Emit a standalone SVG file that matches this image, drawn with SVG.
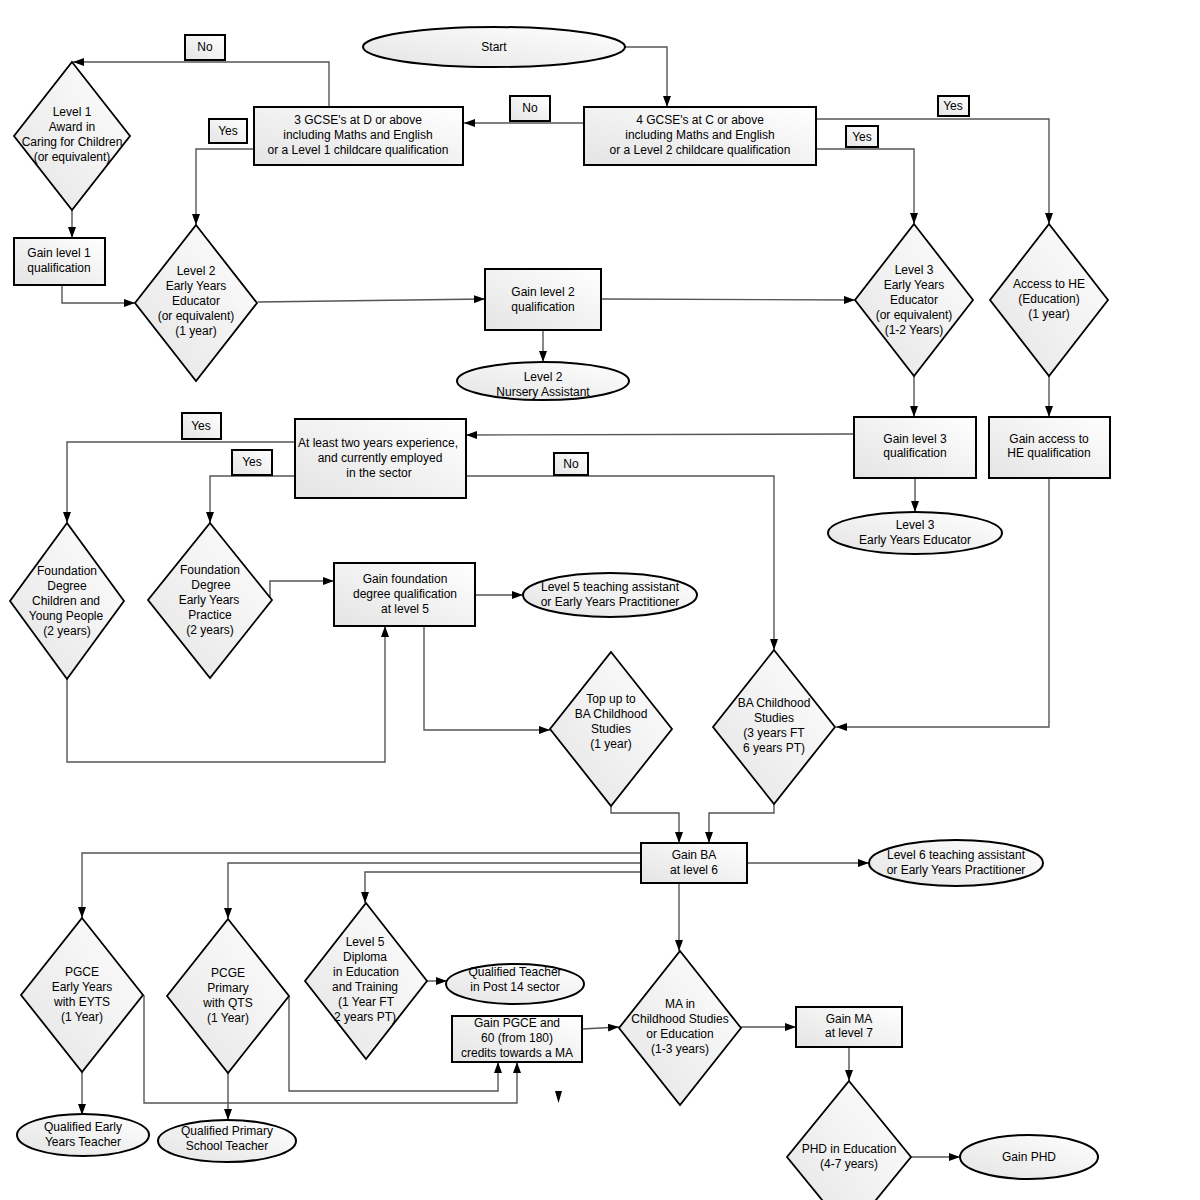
<svg xmlns="http://www.w3.org/2000/svg" width="1200" height="1200" viewBox="0 0 1200 1200">
<defs>
<linearGradient id="g" x1="1" y1="0" x2="0" y2="1">
<stop offset="0" stop-color="#ffffff"/>
<stop offset="1" stop-color="#e4e4e4"/>
</linearGradient>
<marker id="a" markerUnits="userSpaceOnUse" markerWidth="11" markerHeight="8" refX="11" refY="4" orient="auto">
<path d="M0,0 L11,4 L0,8 z" fill="#000"/>
</marker>
</defs>
<style>
.n{fill:url(#g);stroke:#000;stroke-width:2}
.d{fill:url(#g);stroke:#000;stroke-width:1.8}
.lb{fill:url(#g);stroke:#000;stroke-width:2}
.c path{fill:none;stroke:#555;stroke-width:1.4;marker-end:url(#a)}
.c path.x{marker-end:none}
text{font-family:"Liberation Sans",Arial,sans-serif;font-size:12px;fill:#000;text-anchor:middle}
</style>
<rect width="1200" height="1200" fill="#fff"/>

<g class="c" id="connectors">
<path d="M624,47 H667 V107"/>
<path d="M584,123 H464"/>
<path d="M329,107 V62 H73"/>
<path d="M254,149 H196 V225"/>
<path d="M72,210 V238"/>
<path d="M62,285 V303 H135"/>
<path d="M258,302 L485,299"/>
<path d="M601,299 L855,300"/>
<path d="M543,330 V362"/>
<path d="M816,119 H1049 V224"/>
<path d="M816,149 H914 V224"/>
<path d="M914,376 V417"/>
<path d="M1049,376 V417"/>
<path d="M915,478 V512"/>
<path d="M854,434 L466,435"/>
<path d="M1049,478 V727 H836"/>
<path d="M295,442 H67 V523"/>
<path d="M295,476 H210 V523"/>
<path d="M466,476 H774 V650"/>
<path d="M270,600 V581 H334"/>
<path d="M476,595 H523"/>
<path d="M67,679 V762 H385 V626"/>
<path d="M424,626 V730 H550"/>
<path d="M611,806 V813 H679 V843"/>
<path d="M774,804 V813 H709 V843"/>
<path d="M747,863 L869,863"/>
<path d="M641,853 H82 V918"/>
<path d="M641,863 H228 V919"/>
<path d="M641,872 H365 V903"/>
<path d="M679,883 V951"/>
<path d="M741,1027 H796"/>
<path d="M849,1047 V1081"/>
<path d="M911,1157 H960"/>
<path d="M427,981 H447"/>
<path d="M582,1029 L619,1027"/>
<path d="M144,995 V1103 H517 V1062"/>
<path d="M289,996 V1091 H498 V1062"/>
<path d="M82,1072 V1115"/>
<path d="M228,1073 V1120"/>
</g>
<polygon points="555,1091 562,1091 558.5,1103" fill="#000"/>

<g id="start"><ellipse class="n" cx="494" cy="47" rx="131" ry="20"/><text x="494" y="51">Start</text></g>

<g id="gcse4"><rect class="n" x="584" y="107" width="232" height="58"/>
<text x="700" y="124">4 GCSE's at C or above</text><text x="700" y="139">including Maths and English</text><text x="700" y="154">or a Level 2 childcare qualification</text></g>

<g id="gcse3"><rect class="n" x="254" y="107" width="209" height="58"/>
<text x="358" y="124">3 GCSE's at D or above</text><text x="358" y="139">including Maths and English</text><text x="358" y="154">or a Level 1 childcare qualification</text></g>

<g id="lbl-no1"><rect class="lb" x="510" y="96" width="40" height="25"/><text x="530" y="112">No</text></g>
<g id="lbl-no2"><rect class="lb" x="185" y="35" width="40" height="25"/><text x="205" y="51">No</text></g>
<g id="lbl-yes1"><rect class="lb" x="209" y="119" width="38" height="24"/><text x="228" y="135">Yes</text></g>
<g id="lbl-yes2"><rect class="lb" x="938" y="96" width="31" height="20"/><text x="953" y="110">Yes</text></g>
<g id="lbl-yes3"><rect class="lb" x="846" y="126" width="32" height="21"/><text x="862" y="141">Yes</text></g>
<g id="lbl-yes4"><rect class="lb" x="182" y="413" width="39" height="26"/><text x="201" y="430">Yes</text></g>
<g id="lbl-yes5"><rect class="lb" x="232" y="450" width="40" height="25"/><text x="252" y="466">Yes</text></g>
<g id="lbl-no3"><rect class="lb" x="554" y="453" width="34" height="22"/><text x="571" y="468">No</text></g>

<g id="level1"><polygon class="d" points="72,62 130,136 72,210 14,136"/>
<text x="72" y="116">Level 1</text><text x="72" y="131">Award in</text><text x="72" y="146">Caring for Children</text><text x="72" y="161">(or equivalent)</text></g>

<g id="gain1"><rect class="n" x="14" y="238" width="91" height="47"/>
<text x="59" y="257">Gain level 1</text><text x="59" y="272">qualification</text></g>

<g id="level2"><polygon class="d" points="196,225 257,303 196,381 135,303"/>
<text x="196" y="275">Level 2</text><text x="196" y="290">Early Years</text><text x="196" y="305">Educator</text><text x="196" y="320">(or equivalent)</text><text x="196" y="335">(1 year)</text></g>

<g id="gain2"><rect class="n" x="485" y="269" width="116" height="61"/>
<text x="543" y="296">Gain level 2</text><text x="543" y="311">qualification</text></g>

<g id="nursery"><ellipse class="n" cx="543" cy="381" rx="86" ry="19"/>
<text x="543" y="381">Level 2</text><text x="543" y="396">Nursery Assistant</text></g>

<g id="level3"><polygon class="d" points="914,224 973,300 914,376 855,300"/>
<text x="914" y="274">Level 3</text><text x="914" y="289">Early Years</text><text x="914" y="304">Educator</text><text x="914" y="319">(or equivalent)</text><text x="914" y="334">(1-2 Years)</text></g>

<g id="access"><polygon class="d" points="1049,224 1108,300 1049,376 990,300"/>
<text x="1049" y="288">Access to HE</text><text x="1049" y="303">(Education)</text><text x="1049" y="318">(1 year)</text></g>

<g id="gain3"><rect class="n" x="854" y="417" width="122" height="61"/>
<text x="915" y="443">Gain level 3</text><text x="915" y="457">qualification</text></g>

<g id="gainhe"><rect class="n" x="989" y="417" width="121" height="61"/>
<text x="1049" y="443">Gain access to</text><text x="1049" y="457">HE qualification</text></g>

<g id="eye3"><ellipse class="n" cx="915" cy="533" rx="87" ry="21"/>
<text x="915" y="529">Level 3</text><text x="915" y="544">Early Years Educator</text></g>

<g id="experience"><rect class="n" x="295" y="419" width="171" height="79"/>
<text x="378" y="447">At least two years experience,</text><text x="380" y="462">and currently employed</text><text x="379" y="477">in the sector</text></g>

<g id="fdcyp"><polygon class="d" points="67,523 124,601 67,679 10,601"/>
<text x="67" y="575">Foundation</text><text x="67" y="590">Degree</text><text x="66" y="605">Children and</text><text x="66" y="620">Young People</text><text x="67" y="635">(2 years)</text></g>

<g id="fdeyp"><polygon class="d" points="210,523 272,600 210,678 148,600"/>
<text x="210" y="574">Foundation</text><text x="211" y="589">Degree</text><text x="209" y="604">Early Years</text><text x="210" y="619">Practice</text><text x="210" y="634">(2 years)</text></g>

<g id="gainfd"><rect class="n" x="334" y="563" width="141" height="63"/>
<text x="405" y="583">Gain foundation</text><text x="405" y="598">degree qualification</text><text x="405" y="613">at level 5</text></g>

<g id="lvl5ta"><ellipse class="n" cx="610" cy="595" rx="87" ry="22"/>
<text x="610" y="591">Level 5 teaching assistant</text><text x="610" y="606">or Early Years Practitioner</text></g>

<g id="topup"><polygon class="d" points="611,652 672,729 611,806 550,729"/>
<text x="611" y="703">Top up to</text><text x="611" y="718">BA Childhood</text><text x="611" y="733">Studies</text><text x="611" y="748">(1 year)</text></g>

<g id="ba"><polygon class="d" points="774,650 835,727 774,804 713,727"/>
<text x="774" y="707">BA Childhood</text><text x="774" y="722">Studies</text><text x="774" y="737">(3 years FT</text><text x="774" y="752">6 years PT)</text></g>

<g id="gainba"><rect class="n" x="641" y="843" width="106" height="40"/>
<text x="694" y="859">Gain BA</text><text x="694" y="874">at level 6</text></g>

<g id="lvl6ta"><ellipse class="n" cx="956" cy="863" rx="87" ry="23"/>
<text x="956" y="859">Level 6 teaching assistant</text><text x="956" y="874">or Early Years Practitioner</text></g>

<g id="pgceey"><polygon class="d" points="82,918 143,995 82,1072 21,995"/>
<text x="82" y="976">PGCE</text><text x="82" y="991">Early Years</text><text x="82" y="1006">with EYTS</text><text x="82" y="1021">(1 Year)</text></g>

<g id="pcge"><polygon class="d" points="228,919 289,996 228,1073 167,996"/>
<text x="228" y="977">PCGE</text><text x="228" y="992">Primary</text><text x="228" y="1007">with QTS</text><text x="228" y="1022">(1 Year)</text></g>

<g id="diploma"><polygon class="d" points="366,903 427,981 366,1059 305,981"/>
<text x="365" y="946">Level 5</text><text x="365" y="961">Diploma</text><text x="366" y="976">in Education</text><text x="365" y="991">and Training</text><text x="366" y="1006">(1 Year FT</text><text x="365" y="1021">2 years PT)</text></g>

<g id="qtpost14"><ellipse class="n" cx="515" cy="984" rx="69" ry="20"/>
<text x="515" y="976">Qualified Teacher</text><text x="515" y="991">in Post 14 sector</text></g>

<g id="gainpgce"><rect class="n" x="452" y="1016" width="130" height="46"/>
<text x="517" y="1027">Gain PGCE and</text><text x="517" y="1042">60 (from 180)</text><text x="517" y="1057">credits towards a MA</text></g>

<g id="qeyt"><ellipse class="n" cx="83" cy="1135" rx="66" ry="21"/>
<text x="83" y="1131">Qualified Early</text><text x="83" y="1146">Years Teacher</text></g>

<g id="qpst"><ellipse class="n" cx="227" cy="1141" rx="69" ry="21"/>
<text x="227" y="1135">Qualified Primary</text><text x="227" y="1150">School Teacher</text></g>

<g id="ma"><polygon class="d" points="680,951 741,1028 680,1105 619,1028"/>
<text x="680" y="1008">MA in</text><text x="680" y="1023">Childhood Studies</text><text x="680" y="1038">or Education</text><text x="680" y="1053">(1-3 years)</text></g>

<g id="gainma"><rect class="n" x="796" y="1007" width="106" height="40"/>
<text x="849" y="1023">Gain MA</text><text x="849" y="1037">at level 7</text></g>

<g id="phd"><polygon class="d" points="849,1081 911,1157 849,1233 787,1157"/>
<text x="849" y="1153">PHD in Education</text><text x="849" y="1168">(4-7 years)</text></g>

<g id="gainphd"><ellipse class="n" cx="1029" cy="1157" rx="69" ry="22"/>
<text x="1029" y="1161">Gain PHD</text></g>
</svg>
